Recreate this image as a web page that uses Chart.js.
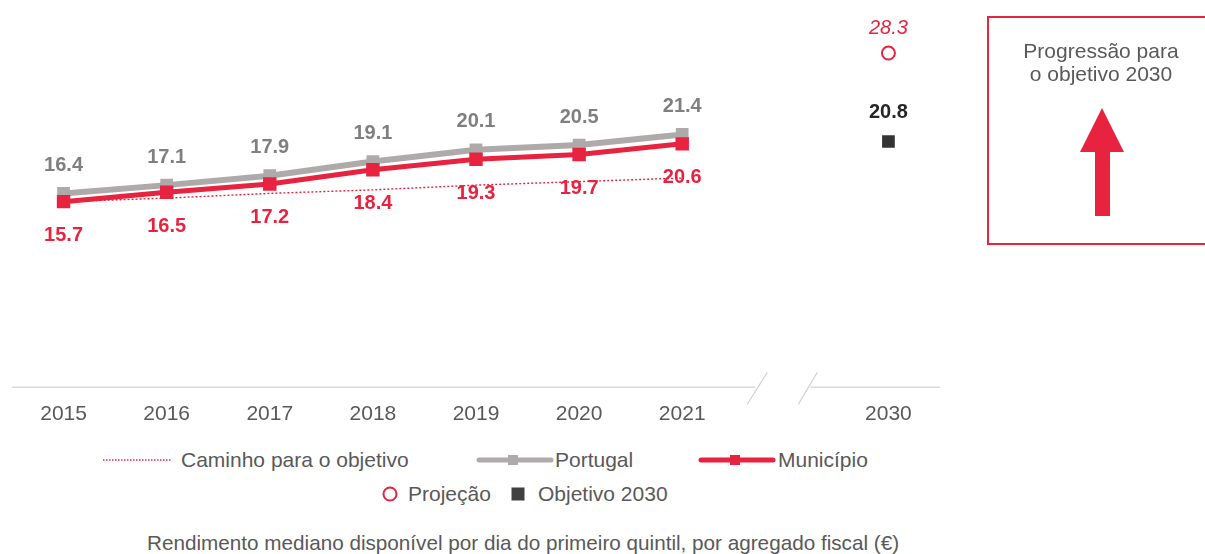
<!DOCTYPE html>
<html>
<head>
<meta charset="utf-8">
<script src="https://cdn.jsdelivr.net/npm/chart.js@4.4.1/dist/chart.umd.min.js"></script>
<style>
  html, body { margin:0; padding:0; background:#fff; width:1205px; height:554px; overflow:hidden; font-family:"Liberation Sans", Arial, sans-serif; color:#595959; }
  #wrap { position:absolute; left:0; top:0; width:1205px; height:447px; }
  .leg { position:absolute; font-size:21px; line-height:24px; white-space:nowrap; }
  #box { position:absolute; left:987px; top:16px; width:224px; height:225px; border:2px solid #E8233F; box-sizing:content-box; }
  #boxtxt { position:absolute; left:0; top:21px; width:224px; text-align:center; font-size:21px; line-height:23px; color:#595959; }
  #title { position:absolute; left:147px; top:531px; font-size:20.7px; line-height:24px; color:#595959; white-space:nowrap; }
</style>
</head>
<body>
<div id="wrap"><canvas id="c"></canvas></div>

<div id="box">
  <div id="boxtxt">Progressão para<br>o objetivo 2030</div>
  <svg style="position:absolute;left:0;top:0" width="224" height="225">
    <polygon points="113,90 135,134 91,134" fill="#E8233F"/>
    <rect x="106" y="133" width="15" height="65" fill="#E8233F"/>
  </svg>
</div>

<!-- legend row 1 -->
<svg class="leg" style="left:100px;top:452px" width="75" height="16"><line x1="3" y1="8" x2="72" y2="8" stroke="#E8233F" stroke-width="1.5" stroke-dasharray="1.5,1.5"/></svg>
<div class="leg" style="left:181px;top:448px">Caminho para o objetivo</div>
<svg class="leg" style="left:476px;top:452px" width="78" height="16"><line x1="3" y1="8" x2="75" y2="8" stroke="#AEAAAA" stroke-width="5" stroke-linecap="round"/><rect x="32" y="3" width="10" height="10" fill="#AEAAAA"/></svg>
<div class="leg" style="left:555px;top:448px">Portugal</div>
<svg class="leg" style="left:698px;top:452px" width="78" height="16"><line x1="3" y1="8" x2="75" y2="8" stroke="#E8233F" stroke-width="5" stroke-linecap="round"/><rect x="32" y="3" width="10" height="10" fill="#E8233F"/></svg>
<div class="leg" style="left:778px;top:448px">Município</div>
<!-- legend row 2 -->
<svg class="leg" style="left:381px;top:485px" width="18" height="18"><circle cx="9" cy="9" r="6.5" fill="#fff" stroke="#E8233F" stroke-width="2"/></svg>
<div class="leg" style="left:408px;top:482px">Projeção</div>
<svg class="leg" style="left:509px;top:485px" width="18" height="18"><rect x="2.5" y="2.5" width="13" height="13" fill="#404040"/></svg>
<div class="leg" style="left:538px;top:482px">Objetivo 2030</div>

<div id="title">Rendimento mediano disponível por dia do primeiro quintil, por agregado fiscal (€)</div>

<script>
const categories = ['2015','2016','2017','2018','2019','2020','2021','','2030'];
const caminho   = [15.7, 16.0, 16.4, 16.7, 17.1, 17.4, 17.7, null, null];
const portugal  = [16.4, 17.1, 17.9, 19.1, 20.1, 20.5, 21.4, null, null];
const municipio = [15.7, 16.5, 17.2, 18.4, 19.3, 19.7, 20.6, null, null];
const projecao  = [null, null, null, null, null, null, null, null, 28.3];
const objetivo  = [null, null, null, null, null, null, null, null, 20.8];

const RED = '#E8233F', GRAY = '#AEAAAA', DARK = '#333333';
const FONT = '"Liberation Sans", Arial, sans-serif';

const labelPlugin = {
  id: 'valueLabels',
  afterDatasetsDraw(chart) {
    const ctx = chart.ctx;
    chart.data.datasets.forEach((ds, i) => {
      if (!ds.lbl) return;
      const meta = chart.getDatasetMeta(i);
      meta.data.forEach((pt, j) => {
        const v = ds.data[j];
        if (v === null || v === undefined) return;
        ctx.save();
        ctx.font = ds.lbl.font;
        ctx.fillStyle = ds.lbl.color;
        ctx.textAlign = 'center';
        ctx.textBaseline = 'middle';
        ctx.fillText(v.toFixed(1), pt.x, pt.y + ds.lbl.dy);
        ctx.restore();
      });
    });
  }
};

const axisPlugin = {
  id: 'brokenAxis',
  afterDraw(chart) {
    const ctx = chart.ctx, a = chart.chartArea;
    const x = chart.scales.x;
    const p = x.getPixelForValue(7);
    const y = a.bottom + 0.5;
    ctx.save();
    ctx.strokeStyle = '#D9D9D9';
    ctx.lineWidth = 1.5;
    ctx.beginPath();
    ctx.moveTo(a.left, y); ctx.lineTo(p - 30, y);
    ctx.moveTo(p + 25, y); ctx.lineTo(a.right, y);
    ctx.stroke();
    ctx.strokeStyle = '#CFCFCF';
    ctx.lineWidth = 1.2;
    ctx.beginPath();
    ctx.moveTo(p - 18, y - 15); ctx.lineTo(p - 38, y + 17);
    ctx.moveTo(p + 32, y - 15); ctx.lineTo(p + 13, y + 17);
    ctx.stroke();
    ctx.restore();
  }
};

new Chart(document.getElementById('c'), {
  type: 'line',
  data: {
    labels: categories,
    datasets: [
      { label: 'Município', data: municipio, borderColor: RED, backgroundColor: RED, borderWidth: 5,
        pointStyle: 'rect', pointRadius: 9.5, pointHoverRadius: 9.5, pointBorderWidth: 0, order: 1,
        lbl: { color: RED, font: 'bold 20px ' + FONT, dy: 34 } },
      { label: 'Portugal', data: portugal, borderColor: GRAY, backgroundColor: GRAY, borderWidth: 6,
        pointStyle: 'rect', pointRadius: 9, pointHoverRadius: 9, pointBorderWidth: 0, order: 2,
        lbl: { color: '#7F7F7F', font: 'bold 20px ' + FONT, dy: -28 } },
      { label: 'Caminho para o objetivo', data: caminho, borderColor: RED, borderWidth: 1.4,
        borderDash: [2, 2], pointRadius: 0, order: 3 },
      { label: 'Projeção', data: projecao, showLine: false, borderColor: RED, backgroundColor: '#fff',
        borderWidth: 2, pointStyle: 'circle', pointRadius: 6.5, order: 0,
        lbl: { color: RED, font: 'italic 20px ' + FONT, dy: -25 } },
      { label: 'Objetivo 2030', data: objetivo, showLine: false, borderColor: DARK, backgroundColor: DARK,
        borderWidth: 0, pointStyle: 'rect', pointRadius: 9, order: 0,
        lbl: { color: '#262626', font: 'bold 20px ' + FONT, dy: -29 } }
    ]
  },
  options: {
    responsive: true,
    maintainAspectRatio: false,
    animation: false,
    spanGaps: false,
    layout: { padding: { left: 12, right: 265, top: 33, bottom: 5 } },
    plugins: { legend: { display: false }, tooltip: { enabled: false } },
    scales: {
      x: {
        offset: true,
        grid: { display: false, drawTicks: false },
        border: { display: false },
        ticks: { color: '#595959', font: { family: FONT, size: 21 }, padding: 15, maxRotation: 0, autoSkip: false }
      },
      y: { display: false, min: 0, max: 30 }
    }
  },
  plugins: [labelPlugin, axisPlugin]
});
</script>
</body>
</html>
